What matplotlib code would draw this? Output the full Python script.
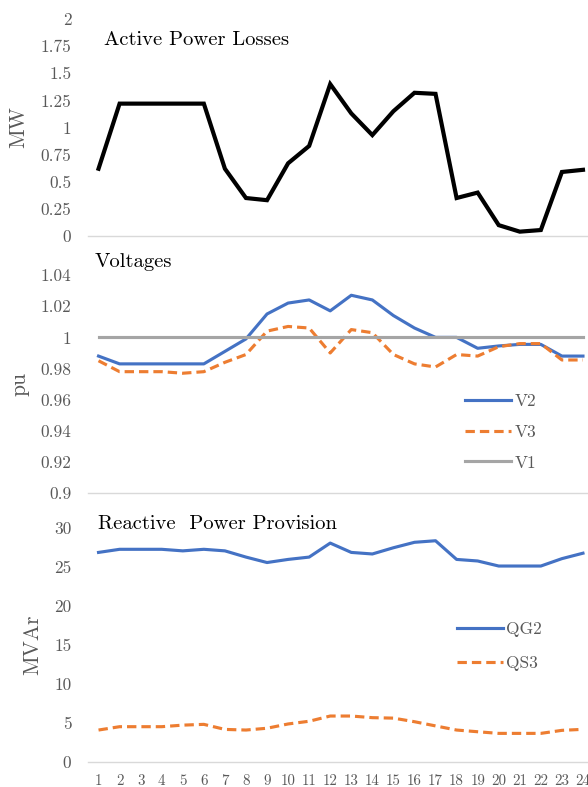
import matplotlib
matplotlib.use("Agg")
import matplotlib.pyplot as plt

hours = list(range(1, 25))

p_loss = [0.62, 1.22, 1.22, 1.22, 1.22, 1.22, 0.62, 0.35, 0.33, 0.67, 0.83, 1.40,
          1.13, 0.93, 1.15, 1.32, 1.31, 0.35, 0.40, 0.10, 0.04, 0.055, 0.59, 0.61]

v2 = [0.988, 0.983, 0.983, 0.983, 0.983, 0.983, 0.991, 0.999, 1.015, 1.022, 1.024, 1.017,
      1.027, 1.024, 1.014, 1.006, 1.000, 1.000, 0.993, 0.9945, 0.9955, 0.9955, 0.988, 0.988]
v3 = [0.985, 0.978, 0.978, 0.978, 0.977, 0.978, 0.984, 0.989, 1.004, 1.007, 1.006, 0.990,
      1.005, 1.003, 0.989, 0.983, 0.981, 0.989, 0.988, 0.994, 0.996, 0.996, 0.9855, 0.9855]
v1 = [1.0] * 24

qg2 = [26.9, 27.3, 27.3, 27.3, 27.1, 27.3, 27.1, 26.3, 25.6, 26.0, 26.3, 28.1,
       26.9, 26.7, 27.5, 28.2, 28.4, 26.0, 25.8, 25.15, 25.15, 25.15, 26.1, 26.8]
qs3 = [4.07, 4.5, 4.5, 4.5, 4.7, 4.8, 4.15, 4.07, 4.3, 4.85, 5.2, 5.87,
       5.87, 5.66, 5.6, 5.14, 4.6, 4.07, 3.85, 3.64, 3.64, 3.64, 4.03, 4.16]

loss_ticks = [0, 0.25, 0.5, 0.75, 1, 1.25, 1.5, 1.75, 2]
loss_labels = ["0", "0.25", "0.5", "0.75", "1", "1.25", "1.5", "1.75", "2"]
volt_ticks = [0.9, 0.92, 0.94, 0.96, 0.98, 1.0, 1.02, 1.04]
volt_labels = ["0.9", "0.92", "0.94", "0.96", "0.98", "1", "1.02", "1.04"]
q_ticks = [0, 5, 10, 15, 20, 25, 30]

FONT = "cmr10"
GREY_TXT = "#595959"
BLUE = "#4472C4"
ORANGE = "#ED7D31"
GREY = "#A5A5A5"
TITLE_SIZE = 14.8

plt.rcParams["font.family"] = [FONT, "DejaVu Serif"]
plt.rcParams["axes.formatter.use_mathtext"] = True

W, H = 588, 787
fig = plt.figure(figsize=(W / 100, H / 100), dpi=100)


def px_axes(left, right, top, bottom):
    return fig.add_axes([left / W, 1 - bottom / H, (right - left) / W, (bottom - top) / H])


def style(ax, ticks, labels, lbl, lbl_x):
    for s in ["top", "right", "left"]:
        ax.spines[s].set_visible(False)
    ax.spines["bottom"].set_color("#D9D9D9")
    ax.spines["bottom"].set_linewidth(1.0)
    ax.set_xlim(0.5, 24.5)
    ax.set_ylim(ticks[0], ticks[-1])
    ax.set_yticks(ticks)
    ax.set_yticklabels(labels)
    ax.tick_params(axis="y", length=0, pad=12, labelsize=12.5, labelcolor=GREY_TXT)
    ax.tick_params(axis="x", length=0)
    ax.set_ylabel(lbl, fontsize=15.5, color=GREY_TXT)
    ax.yaxis.set_label_coords(lbl_x, 0.5)


def legend(ax, top_px, spacing):
    ax.legend(loc="upper left", bbox_to_anchor=(top_px[0] / W, 1 - top_px[1] / H),
              bbox_transform=fig.transFigure, frameon=False, fontsize=12.5,
              handlelength=2.65, handletextpad=0.2, labelspacing=spacing,
              borderpad=0, borderaxespad=0, labelcolor=GREY_TXT)


ax1 = px_axes(88, 593.5, 19, 236)
ax1.plot(hours, p_loss, color="black", lw=3.0, solid_joinstyle="miter")
style(ax1, loss_ticks, loss_labels, "MW", -0.119)
ax1.set_xticks([])
fig.text(104 / W, 1 - 45 / H, "Active Power Losses", fontsize=TITLE_SIZE, color="black", va="baseline")

ax2 = px_axes(88, 593.5, 275, 493.3)
ax2.plot(hours, v2, color=BLUE, lw=2.25, label="V2")
ax2.plot(hours, v3, color=ORANGE, lw=2.25, dashes=(3, 1.6), label="V3")
ax2.plot(hours, v1, color=GREY, lw=2.25, label="V1")
style(ax2, volt_ticks, volt_labels, "pu", -0.115)
ax2.set_xticks([])
fig.text(95 / W, 1 - 267 / H, "Voltages", fontsize=TITLE_SIZE, color="black", va="baseline")
legend(ax2, (465, 394), 0.88)

ax3 = px_axes(88, 593.5, 528.3, 761.7)
ax3.plot(hours, qg2, color=BLUE, lw=2.25, label="QG2")
ax3.plot(hours, qs3, color=ORANGE, lw=2.25, dashes=(3, 1.6), label="QS3")
style(ax3, q_ticks, [str(t) for t in q_ticks], "MVAr", -0.091)
ax3.set_xticks(hours)
ax3.set_xticklabels([str(h) for h in hours])
ax3.tick_params(axis="x", labelsize=10.8, labelcolor=GREY_TXT, pad=9)
fig.text(98 / W, 1 - 529 / H, "Reactive  Power Provision", fontsize=TITLE_SIZE, color="black", va="baseline")
legend(ax3, (457, 622), 1.05)

fig.savefig("out.png", dpi=100)
